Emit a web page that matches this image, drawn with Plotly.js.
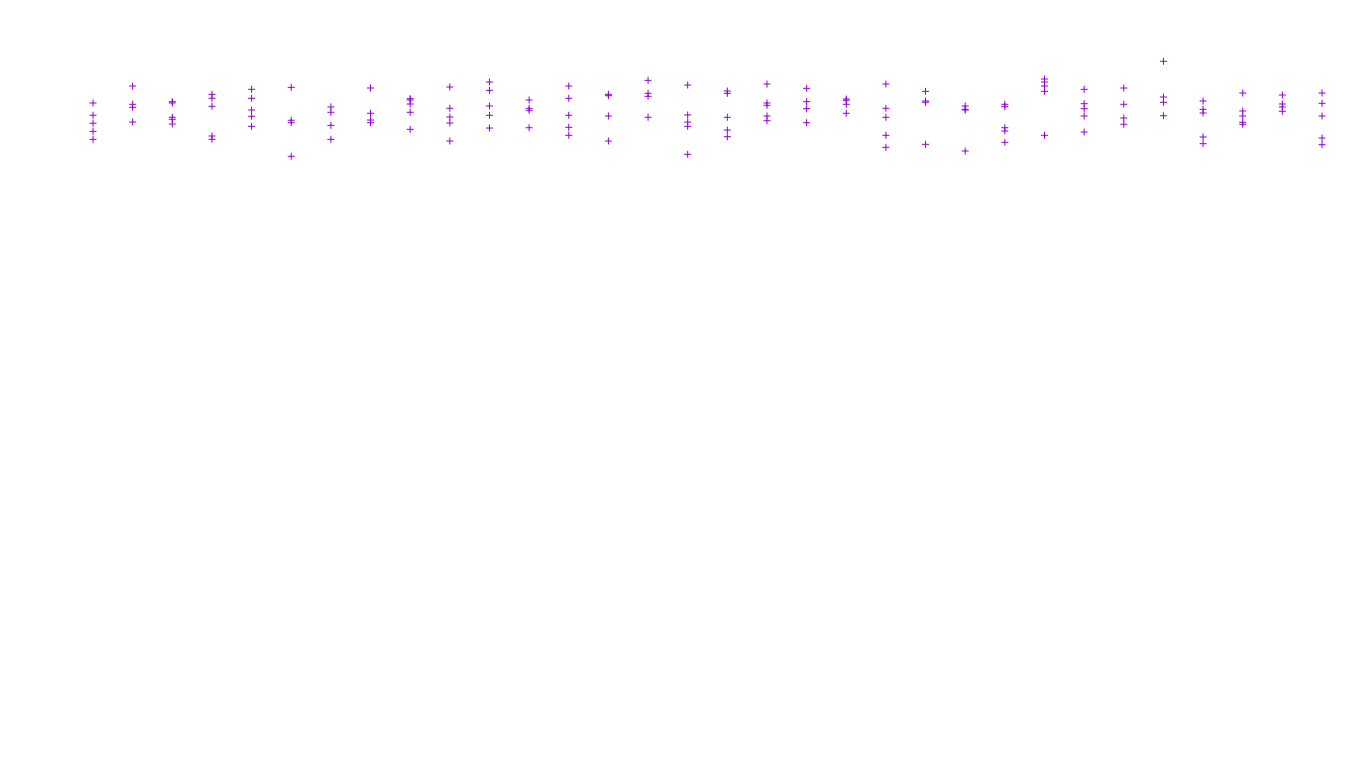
<!DOCTYPE html>
<html>
<head>
<meta charset="utf-8">
<script src="https://cdn.plot.ly/plotly-3.0.1.min.js"></script>
<style>html,body{margin:0;padding:0;background:#fff;}#chart{width:1360px;height:768px;}</style>
</head>
<body>
<div id="chart"></div>
<script>
// Category positions (32 groups)
const categories = Array.from({length: 32}, (_, i) => i);

// Five repeated measurements per group (null where absent)
const series1 = [86.59, 88.80, 86.76, 87.72, 88.37, 88.63, 86.07, 88.54, 87.15, 88.67, 89.32, 86.98, 88.80, 87.72, 89.54, 88.93, 88.15, 89.06, 88.50, 87.11, 89.06, 88.11, 86.20, 86.42, 89.71, 88.37, 88.54, 92.02, 86.85, 87.89, 87.63, 87.89];
const series2 = [84.99, 86.42, 86.59, 87.20, 87.20, 84.34, 85.38, 85.25, 86.98, 85.90, 88.24, 85.90, 87.20, 87.54, 87.85, 85.03, 87.85, 86.59, 86.76, 86.94, 85.90, 86.85, 85.77, 86.11, 89.32, 86.50, 86.42, 87.37, 85.77, 85.55, 86.46, 86.55];
const series3 = [83.95, 86.03, 84.73, 86.16, 85.68, 84.02, 83.68, 84.37, 86.46, 84.77, 86.20, 85.64, 84.99, 84.90, 87.46, 84.11, 84.73, 86.29, 85.85, 86.42, 84.73, 86.68, 85.68, 83.37, 88.80, 85.85, 84.64, 86.68, 85.29, 84.90, 86.07, 84.90];
const series4 = [82.90, 84.11, 84.47, 82.29, 84.86, 79.65, 81.86, 84.02, 85.38, 83.98, 84.99, 83.37, 83.42, 81.64, 84.73, 83.55, 83.07, 84.90, 84.02, 85.25, 82.38, 81.21, 80.34, 82.94, 88.11, 84.90, 83.82, 84.93, 82.16, 84.08, 85.51, 82.03];
const series5 = [81.86, null, 83.85, 81.86, 83.55, null, null, null, 83.16, 81.64, 83.33, null, 82.38, null, null, 79.91, 82.20, 84.28, null, null, 80.82, null, null, 81.47, 82.38, 82.81, null, null, 81.29, 83.82, null, 81.16];

const allSeries = [series1, series2, series3, series4, series5];
const traces = allSeries.map((s, i) => ({
  type: 'scatter',
  mode: 'markers',
  name: 'Run ' + (i + 1),
  x: categories,
  y: s,
  marker: {symbol: 'cross-thin-open', size: 5, color: '#9400D3', line: {width: 1, color: '#9400D3'}},
  hoverinfo: 'x+y'
}));

const layout = {
  width: 1360,
  height: 768,
  margin: {l: 0, r: 0, t: 0, b: 0},
  paper_bgcolor: '#ffffff',
  plot_bgcolor: '#ffffff',
  showlegend: false,
  xaxis: {visible: false, range: [-2.346, 31.958]},
  yaxis: {visible: false, range: [0, 100]}
};

Plotly.newPlot('chart', traces, layout, {displayModeBar: false, staticPlot: true});
</script>
</body>
</html>
